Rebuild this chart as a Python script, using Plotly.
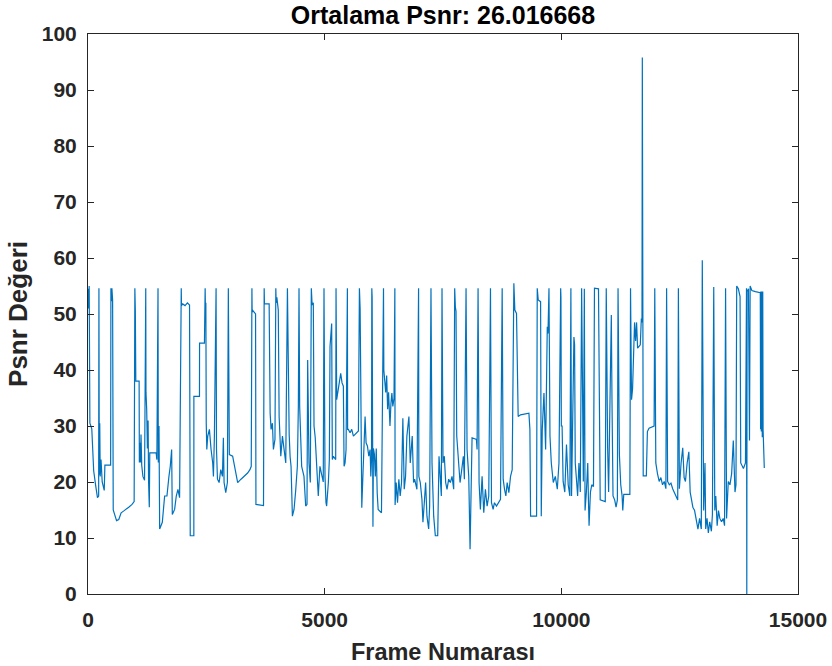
import plotly.graph_objects as go

# Frame numbers (x) and PSNR values (y)
frames = [
    0, 12, 25, 40, 80, 120, 160, 200, 225,
    231, 238, 248, 258, 275, 300, 343, 357, 478,
    484, 495, 505, 520, 533, 603, 650, 700, 750, 800, 860, 930, 975,
    990, 1000, 1010, 1080, 1085, 1100, 1110, 1120, 1135, 1160, 1195,
    1220, 1225, 1240, 1255, 1270, 1280, 1295, 1305, 1440, 1455,
    1479, 1485, 1500, 1514, 1570, 1619, 1668, 1710, 1738, 1767, 1781, 1830, 1865, 1900, 1935,
    1970, 1975, 2000, 2050, 2100, 2145, 2160, 2236, 2237, 2355, 2357, 2460,
    2475, 2480, 2490, 2498, 2510, 2530, 2565, 2600, 2635, 2650, 2670,
    2706, 2715, 2735, 2770, 2805, 2840, 2860, 2875, 2910, 2945,
    2965, 2986, 3056, 3091, 3126, 3162, 3232, 3302, 3372, 3421, 3449,
    3463, 3468, 3475, 3540, 3548, 3708,
    3722, 3728, 3827, 3835, 3848, 3868, 3896, 3917, 3950,
    3968, 3975, 3990, 4020, 4038, 4073, 4108, 4143, 4178,
    4213, 4234, 4250, 4270, 4290, 4318, 4353, 4388, 4423, 4444,
    4458, 4472, 4514, 4563, 4599, 4627, 4641, 4669, 4697,
    4718, 4722, 4735, 4760, 4775, 4800, 4823, 4865, 4900, 4936, 4970,
    4986, 5007, 5028, 5042, 5078, 5099, 5113, 5134, 5148, 5162, 5184, 5233,
    5240, 5254, 5290, 5339, 5367, 5395, 5410, 5431, 5452,
    5480, 5485, 5500, 5537, 5572, 5607, 5642, 5678, 5713,
    5734, 5749, 5763, 5784, 5805, 5833, 5854, 5875, 5904, 5932, 5960, 5975, 5990,
    5996, 6003, 6010, 6020, 6030, 6050, 6070, 6090, 6110, 6130, 6200,
    6243, 6250, 6270, 6290, 6310, 6330, 6350, 6380, 6400, 6420, 6440, 6465,
    6483, 6488, 6511, 6539, 6567, 6596, 6624, 6652, 6681, 6709, 6737, 6780, 6808, 6850, 6878, 6900, 6949,
    6984, 6990, 7020, 7055, 7076, 7105, 7133, 7161, 7197, 7218,
    7246, 7268, 7303, 7338, 7388, 7416, 7444, 7465,
    7479, 7500, 7528, 7557, 7585, 7620, 7656, 7691, 7726,
    7747, 7761, 7775, 7790, 7825, 7860, 7896, 7930, 7952,
    7987, 8008, 8044, 8072, 8093, 8114, 8206, 8220,
    8241, 8262, 8290, 8326, 8361, 8396, 8432, 8467,
    8503, 8524, 8559, 8587, 8630, 8680, 8715,
    8750, 8771, 8800, 8828, 8856, 8891, 8927, 8962,
    8997, 9018, 9053, 9067, 9088, 9138, 9315, 9336, 9350, 9477,
    9491, 9512, 9562, 9576, 9597, 9633, 9668, 9703, 9718, 9739, 9760, 9788, 9830, 9873, 9915, 9950,
    9986, 9992, 10000, 10016, 10038, 10073, 10109, 10145, 10180,
    10202, 10216, 10237, 10251, 10266, 10280, 10294, 10323, 10344, 10372, 10401,
    10429, 10444, 10465, 10486, 10501, 10529, 10558, 10572, 10586, 10615, 10643, 10679,
    10700, 10785, 10800, 10821, 10928,
    10949, 10978, 10999, 11020, 11035, 11056, 11070, 11092, 11127, 11156, 11184,
    11198, 11227, 11255, 11284, 11298, 11319, 11448,
    11462, 11483, 11505, 11526, 11547, 11569, 11590, 11611, 11640, 11668, 11690, 11704,
    11711, 11718, 11725, 11730, 11796, 11818, 11853, 11960,
    11974, 11996, 12031, 12067, 12103, 12138, 12174, 12209,
    12224, 12245, 12281, 12316, 12352, 12388, 12423, 12459,
    12473, 12494, 12530, 12565, 12594, 12622, 12658, 12694, 12722, 12750, 12779, 12815, 12850, 12886, 12921, 12957,
    12978, 13007, 13035, 13050, 13078, 13106, 13135, 13170, 13192,
    13220, 13242, 13263, 13292, 13320, 13349, 13384, 13420, 13448,
    13470, 13491, 13527, 13562, 13598, 13633, 13669, 13690,
    13705, 13740, 13776, 13790, 13847, 13890,
    13912, 13918, 13925, 13954, 13975, 13989, 14025, 14100, 14203,
    14210, 14215, 14225, 14235, 14245, 14255, 14262, 14288,
]

psnr = [
    54.5, 51, 55, 30.5, 29.5, 22, 19.5, 17.2, 17.5,
    54.6, 21.3, 30.5, 21, 24, 20, 18.5, 23, 23,
    54.6, 52.3, 54.6, 52.5, 15, 13.1, 13.3, 14.5, 14.8, 15.2, 15.5, 16, 16.5,
    54.6, 50.6, 38, 38, 23.5, 27, 23.5, 28.5, 23, 21, 20.3,
    54.6, 36, 33, 26, 31, 20, 15.5, 25.2, 25.2, 24,
    54.6, 23.5, 30, 11.6, 12.8, 17.5, 17.5, 21, 22.8, 25.8, 14.2, 15.1, 17.5, 18.7, 17.2,
    54.6, 51.5, 51.8, 51.5, 52, 51.6, 10.4, 10.4, 35.3, 35.3, 44.8, 44.8,
    54.6, 51.5, 52, 30.5, 25.8, 28.2, 29.4, 25.8, 23.4, 21, 28,
    54.6, 25.8, 20.5, 19.9, 22.2, 21, 27.9, 19.9, 18.1, 19.9,
    54.6, 24.9, 24.6, 22.8, 21, 19.9, 20.5, 21, 21.6, 22.2, 22.8,
    54.6, 50.3, 50.7, 50, 16, 15.8,
    54.6, 51.8, 51.8, 33, 32.3, 29.4, 30.5, 25.8, 27.6,
    54.6, 52, 53, 50.7, 31.7, 24.6, 28.2, 25.8, 23.4,
    54.6, 35.9, 28.5, 24.5, 22.8, 13.9, 15.1, 18.5, 22.8, 33.5,
    54.6, 33.5, 22.8, 21, 15.7, 16, 41.8, 23.4, 19.9,
    54.6, 52, 51.6, 52, 30, 28, 23.4, 17.5, 22.8, 21, 20,
    54.6, 21, 16.3, 15.7, 19.9, 24, 44.2, 47.7, 48.3, 24, 24.6, 24,
    54.6, 34.7, 37.1, 39.4, 37.7, 37.1, 22.8, 23.4, 25.8,
    54.6, 29.4, 29.4, 28.8, 29.4, 28.2, 28.5, 28.8, 29.1,
    54.6, 51, 37.7, 15.4, 20.5, 25.8, 31.7, 27, 26.4, 24.6, 25.8, 21, 24,
    54.6, 53, 35, 12, 26, 25, 21, 26, 18, 15.1, 14.5,
    54.6, 40, 37.7, 36, 39, 33, 36, 30, 34, 35.9, 33.5, 35,
    54.6, 15.9, 19.9, 16.3, 20.5, 17.5, 19.9, 31.4, 18.7, 21, 28.2, 31.7, 23.4, 28.2, 19.9, 20.5, 18.7,
    54.6, 21, 19.9, 16.9, 12.8, 16.3, 19.9, 13.9, 11.6, 15.7,
    54.6, 23.4, 13.9, 10.4, 10.4, 24.6, 19.9, 17.5,
    54.6, 23.4, 24.6, 19.9, 18.7, 20.5, 19.9, 21, 18.7,
    54.6, 51.3, 50.5, 28.2, 23.4, 19.9, 22.2, 24.6, 20.5,
    54.6, 25.8, 21, 8, 23.4, 27.9, 27.6, 25.8,
    54.6, 19.9, 15.1, 21, 14.5, 18.7, 15.7, 17.5,
    54.6, 16.3, 15.1, 16.3, 15.7, 16.3, 16.9,
    54.6, 20.5, 18.7, 17.5, 19.9, 18.1, 21, 22.2,
    55.5, 50.7, 50.1, 39.4, 31.7, 32, 32.3, 29.4, 13.9, 13.9,
    54.6, 52.5, 52.2, 13.9, 29.4, 35.9, 25.8, 47.7, 46.5, 54.6, 28.2, 23.4, 19.9, 21, 18.7, 23.4,
    54.6, 53, 30, 30, 20.1, 18.2, 26.7, 19.5, 17.5,
    54.6, 17.5, 26.7, 35.3, 45.9, 44.5, 23.4, 20.1, 17.5, 23.4, 18.2,
    54.6, 35.3, 20.1, 54.5, 14.9, 18.2, 23.4, 17, 12.2, 18.2, 19.5, 19.2,
    54.6, 54.5, 27.4, 16.8, 16.5,
    54.6, 26.1, 18.2, 30, 36.6, 49.8, 34.7, 17.5, 16.8, 15.5, 16.8,
    54.6, 24.8, 19.5, 17.5, 14.9, 17.8, 17.8,
    54.6, 34.7, 36.6, 43.9, 48.5, 45.2, 48.5, 43.9, 44.2, 44.5, 49.2, 48.5,
    95.8, 55.1, 53, 21.1, 21.1, 29, 29.6, 30,
    54.6, 23.4, 21.5, 20.1, 20.8, 19.5, 20.1, 18.8,
    54.6, 20.1, 19.5, 19.8, 18.8, 18.2, 17.5, 16.8,
    54.6, 18.8, 23.4, 26.1, 20.8, 20.1, 23.4, 25.4, 18.2, 16.8, 15.5, 14.9, 12.9, 11.6, 13.5, 11.6,
    59.6, 14.9, 23.4, 11.6, 13.5, 10.9, 12.9, 11.2, 14.2,
    54.8, 14.9, 17.5, 12.2, 14.9, 13.5, 12.9, 13.5, 12.2,
    54.6, 13.5, 20.1, 19.5, 21.5, 27.4, 18.2, 19.5,
    55.0, 54.5, 53.1, 23.4, 22.4, 23.4,
    54.6, 0, 54, 54.5, 27.4, 55.0, 54.2, 54, 53.8,
    29.4, 54, 29, 54, 28, 54, 29.4, 22.5,
]

TITLE = "Ortalama Psnr: 26.016668"
XLABEL = "Frame Numarası"
YLABEL = "Psnr Değeri"
x_ticks = [0, 5000, 10000, 15000]
x_ticktext = ["0", "5000", "10000", "15000"]
y_ticks = [0, 10, 20, 30, 40, 50, 60, 70, 80, 90, 100]
y_ticktext = [str(v) for v in y_ticks]

FONT = "Liberation Sans, Arial, sans-serif"
AX = "#262626"

fig = go.Figure()
fig.add_trace(go.Scatter(
    x=frames, y=psnr, mode="lines",
    line=dict(color="#0072BD", width=1.2),
    showlegend=False, hoverinfo="x+y",
))

axis_common = dict(
    showline=True, linecolor=AX, linewidth=1, mirror="ticks",
    ticks="inside", ticklen=6, tickcolor=AX, tickwidth=1,
    showgrid=False, zeroline=False,
    tickfont=dict(family=FONT, size=21, color=AX, weight="bold"),
)

fig.update_layout(
    width=832, height=666,
    margin=dict(l=88, r=34, t=34, b=72, autoexpand=False),
    paper_bgcolor="white", plot_bgcolor="white",
    title=dict(text=TITLE, x=0.5, xref="paper", xanchor="center",
               y=1 - 15 / 666, yref="container", yanchor="middle",
               font=dict(family=FONT, size=25, color="black", weight="bold")),
    xaxis=dict(range=[0, 15000], tickvals=x_ticks, ticktext=x_ticktext,
               ticklabelstandoff=7,
               title=dict(text=XLABEL, standoff=13,
                          font=dict(family=FONT, size=23.5, color=AX, weight="bold")),
               automargin=False, **axis_common),
    yaxis=dict(range=[0, 100], tickvals=y_ticks, ticktext=y_ticktext,
               ticklabelstandoff=6,
               title=dict(text=YLABEL, standoff=6,
                          font=dict(family=FONT, size=26, color=AX, weight="bold")),
               automargin=False, **axis_common),
)

fig.write_html("out.html")
